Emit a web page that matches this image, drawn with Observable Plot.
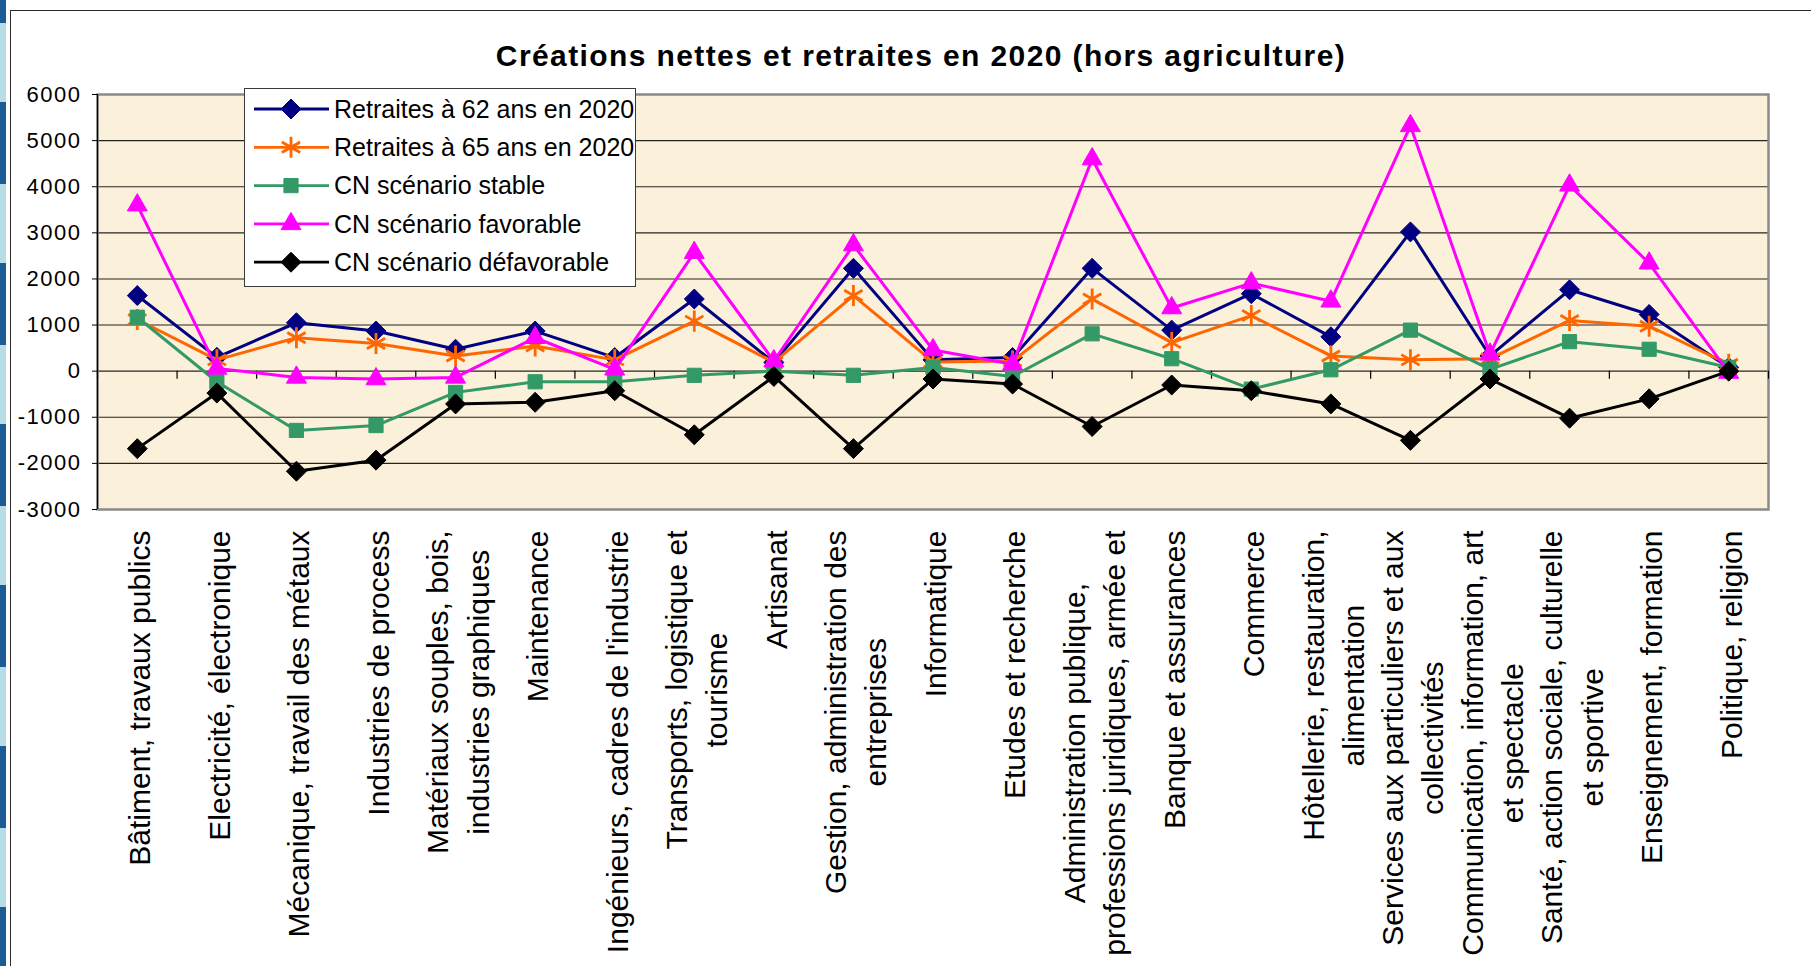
<!DOCTYPE html>
<html>
<head>
<meta charset="utf-8">
<script src="https://cdn.jsdelivr.net/npm/d3@7"></script>
<script src="https://cdn.jsdelivr.net/npm/@observablehq/plot@0.6"></script>
<style>
  html, body { margin: 0; padding: 0; background: #fff; }
  #wrap { position: relative; width: 1811px; height: 966px; overflow: hidden; font-family: "Liberation Sans", Arial, sans-serif; }
  #strip { position: absolute; left: 0; top: 0; width: 6px; height: 966px;
    background: repeating-linear-gradient(to bottom, #1d5b98 0px, #1d5b98 23px, #b7dee5 23px, #b7dee5 102px, #1d5b98 102px, #1d5b98 161px); }
  #border { position: absolute; left: 10px; top: 10px; width: 1900px; height: 1100px; border: 1.5px solid #2a2a2a; }
  #title { position: absolute; left: 0; top: 39px; width: 1842px; text-align: center; font-weight: bold; font-size: 30px; letter-spacing: 1.4px; line-height: 34px; color: #000; }
  #chart { position: absolute; left: 0; top: 0; }
  #legend { position: absolute; left: 244px; top: 88px; width: 392px; height: 199px; box-sizing: border-box; background: #fff; border: 1.5px solid #3a3a3a; }
  #legend svg { position: absolute; left: -1.5px; top: -1.5px; }
  g[aria-label="y-axis tick label"] text { letter-spacing: 1.5px; }
</style>
</head>
<body>
<div id="wrap">
  <div id="strip"></div>
  <div id="border"></div>
  <div id="chart"></div>
  <div id="title">Créations nettes et retraites en 2020 (hors agriculture)</div>
  <div id="legend"></div>
</div>
<script>
// ---------- data ----------
const categories = [
  "Bâtiment, travaux publics",
  "Electricité, électronique",
  "Mécanique, travail des métaux",
  "Industries de process",
  "Matériaux souples, bois,\nindustries graphiques",
  "Maintenance",
  "Ingénieurs, cadres de l'industrie",
  "Transports, logistique et\ntourisme",
  "Artisanat",
  "Gestion, administration des\nentreprises",
  "Informatique",
  "Etudes et recherche",
  "Administration publique,\nprofessions juridiques, armée et",
  "Banque et assurances",
  "Commerce",
  "Hôtellerie, restauration,\nalimentation",
  "Services aux particuliers et aux\ncollectivités",
  "Communication, information, art\net spectacle",
  "Santé, action sociale, culturelle\net sportive",
  "Enseignement, formation",
  "Politique, religion"
];

const retraites62 = [1640, 300, 1050, 870, 475, 870, 295, 1565, 190, 2230, 245, 295, 2230, 890, 1680, 745, 3020, 330, 1765, 1230, 80];
const retraites65 = [1120, 245, 725, 600, 330, 545, 245, 1085, 190, 1640, 200, 220, 1565, 620, 1205, 330, 245, 270, 1100, 975, 150];
const cnStable = [1170, -230, -1285, -1180, -460, -230, -230, -90, 0, -90, 80, -115, 810, 270, -390, 30, 890, 40, 640, 475, 80];
const cnFavorable = [3600, 60, -135, -170, -135, 725, 40, 2570, 220, 2735, 460, 150, 4600, 1370, 1910, 1515, 5320, 365, 4030, 2340, -30];
const cnDefavorable = [-1680, -475, -2170, -1930, -710, -675, -425, -1380, -115, -1680, -170, -280, -1200, -300, -425, -710, -1500, -170, -1020, -600, 0];

const seriesNames = ["Retraites à 62 ans en 2020", "Retraites à 65 ans en 2020", "CN scénario stable", "CN scénario favorable", "CN scénario défavorable"];
const seriesValues = [retraites62, retraites65, cnStable, cnFavorable, cnDefavorable];
const seriesColors = ["#000080", "#ff6600", "#339966", "#ff00ff", "#000000"];
const seriesSymbols = ["diamond2", "asterisk", "square", "triangle", "diamond2"];
const symbolRadius = [9, 10, 8, 7.4, 9];

const yTicks = [-3000, -2000, -1000, 0, 1000, 2000, 3000, 4000, 5000, 6000];

// ---------- layout ----------
const W = 1811, H = 966;
const ML = 97, MR = 43, MT = 94, MB = 457;
const bg = "#fbf0da";

const idx = d3.range(categories.length);
const boundaries = d3.range(categories.length + 1).map(i => i - 0.5);
const gridValues = yTicks.slice(1, -1);

const seriesMarks = seriesNames.flatMap((name, s) => {
  const rows = idx.map(i => ({i, v: seriesValues[s][i]}));
  const isStroke = seriesSymbols[s] === "asterisk";
  return [
    Plot.line(rows, {x: "i", y: "v", stroke: seriesColors[s], strokeWidth: 3}),
    Plot.dot(rows, {
      x: "i", y: "v", symbol: () => seriesSymbols[s], r: symbolRadius[s],
      fill: isStroke ? "none" : seriesColors[s],
      stroke: seriesColors[s], strokeWidth: isStroke ? 2.8 : 1
    })
  ];
});

const chart = Plot.plot({
  width: W, height: H,
  marginLeft: ML, marginRight: MR, marginTop: MT, marginBottom: MB,
  style: {fontFamily: "'Liberation Sans', Arial, sans-serif", color: "#000", background: "transparent", overflow: "visible"},
  x: {type: "linear", domain: [-0.5, categories.length - 0.5]},
  y: {domain: [yTicks[0], yTicks[yTicks.length - 1]]},
  symbol: {type: "identity"},
  marks: [
    Plot.frame({fill: bg, stroke: null}),
    Plot.ruleY(gridValues, {stroke: "#000", strokeWidth: 1.1, strokeOpacity: 0.85}),
    Plot.frame({stroke: "#8a8a8a", strokeWidth: 2.5}),
    Plot.ruleX([boundaries[0]], {stroke: "#000", strokeWidth: 1.2}),
    Plot.ruleX(boundaries, {y1: 0, y2: 0, insetBottom: -8, stroke: "#000", strokeWidth: 1.2}),
    Plot.axisY({ticks: yTicks, tickSize: 5, tickPadding: 11, fontSize: 22, label: null, tickFormat: d => String(d)}),
    Plot.axisX({ticks: idx, tickFormat: i => categories[i], tickRotate: -90, tickSize: 0, tickPadding: 21, fontSize: 30, lineHeight: 1.34, label: null}),
    ...seriesMarks
  ]
});

document.getElementById("chart").append(chart);

// center shorter lines within multi-line rotated tick labels
chart.querySelectorAll('g[aria-label="x-axis tick label"] text').forEach(t => {
  const spans = [...t.querySelectorAll("tspan")];
  if (spans.length < 2) return;
  const lens = spans.map(s => s.getComputedTextLength());
  const L = Math.max(...lens);
  spans.forEach((s, k) => s.setAttribute("x", -(L - lens[k]) / 2));
});

// ---------- legend ----------
const lg = d3.select("#legend").append("svg").attr("width", 392).attr("height", 199);
const symMap = {diamond2: d3.symbolDiamond2, asterisk: d3.symbolAsterisk, square: d3.symbolSquare, triangle: d3.symbolTriangle};
seriesNames.forEach((name, s) => {
  const cy = 21 + s * 38.3;
  const g = lg.append("g").attr("transform", `translate(0,${cy})`);
  g.append("line").attr("x1", 10).attr("x2", 85).attr("y1", 0).attr("y2", 0)
    .attr("stroke", seriesColors[s]).attr("stroke-width", 2.8);
  const isStroke = seriesSymbols[s] === "asterisk";
  g.append("path").attr("transform", "translate(47,0)")
    .attr("d", d3.symbol(symMap[seriesSymbols[s]], Math.PI * symbolRadius[s] ** 2)())
    .attr("fill", isStroke ? "none" : seriesColors[s])
    .attr("stroke", seriesColors[s]).attr("stroke-width", isStroke ? 2.8 : 1);
  g.append("text").attr("x", 90).attr("y", 0).attr("dy", "0.35em")
    .attr("font-size", 25).attr("font-family", "'Liberation Sans', Arial, sans-serif")
    .attr("fill", "#000").text(name);
});
</script>
</body>
</html>
